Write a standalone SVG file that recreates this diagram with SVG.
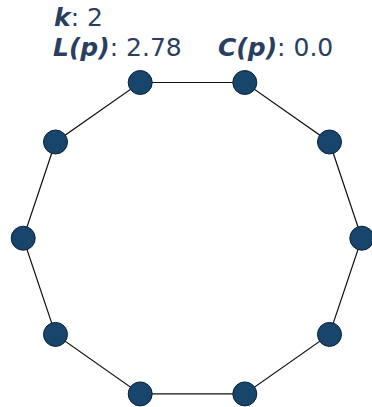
<svg xmlns="http://www.w3.org/2000/svg" width="372" height="407" viewBox="0 0 372 407">
<style>
.t{font-family:"DejaVu Sans",Verdana,sans-serif;font-size:25px;fill:#2a3f5f}
.b{font-weight:bold;font-style:italic}
.n{fill:#17456c;stroke:#0b2236;stroke-width:1}
.e{stroke:#111;stroke-width:1.2;fill:none}
</style>
<rect width="372" height="407" fill="#fff"/>
<g id="labels">
<text class="t" x="54" y="26"><tspan class="b">k</tspan>: 2</text>
<text class="t" x="53" y="56"><tspan class="b">L(p)</tspan>: 2.78</text>
<text class="t" x="218" y="56"><tspan class="b">C(p)</tspan>: 0.0</text>
</g>
<g id="edges">
<polygon class="e" points="361.8,238.2 329.5,142 244.8,82.5 140.2,82.5 55.5,142 23.2,238.2 55.5,334.4 140.2,393.9 244.8,393.9 329.5,334.4"/>
</g>
<g id="n0"><circle class="n" cx="361.8" cy="238.2" r="12"/></g>
<g id="n1"><circle class="n" cx="329.5" cy="142" r="12"/></g>
<g id="n2"><circle class="n" cx="244.8" cy="82.5" r="12"/></g>
<g id="n3"><circle class="n" cx="140.2" cy="82.5" r="12"/></g>
<g id="n4"><circle class="n" cx="55.5" cy="142" r="12"/></g>
<g id="n5"><circle class="n" cx="23.2" cy="238.2" r="12"/></g>
<g id="n6"><circle class="n" cx="55.5" cy="334.4" r="12"/></g>
<g id="n7"><circle class="n" cx="140.2" cy="393.9" r="12"/></g>
<g id="n8"><circle class="n" cx="244.8" cy="393.9" r="12"/></g>
<g id="n9"><circle class="n" cx="329.5" cy="334.4" r="12"/></g>
</svg>
